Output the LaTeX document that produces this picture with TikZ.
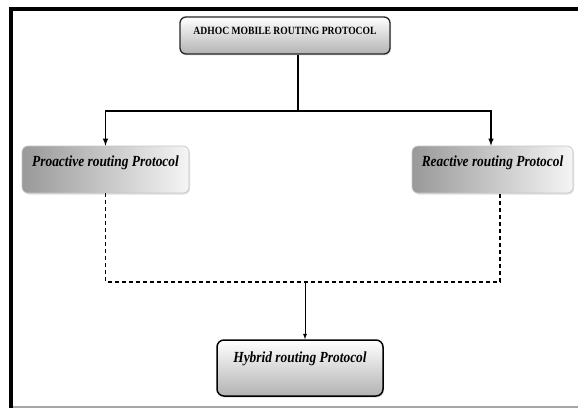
\documentclass[tikz,border=0pt]{standalone}
\usepackage{fontspec}
\setmainfont{Liberation Serif}
\usetikzlibrary{shadows}

\newcommand{\tall}[1]{\scalebox{1}[1.15]{#1}}

\tikzset{
  soft/.style={drop shadow={opacity=0.25, shadow xshift=1pt, shadow yshift=-1.5pt}},
  headbox/.style={soft, draw=black!85, line width=1.3pt, rounded corners=6pt,
    top color=white, bottom color=gray!60, inner sep=0pt,
    font=\fontsize{9.6}{11}\selectfont\bfseries},
  sidebox/.style={soft, draw=gray!45, line width=0.6pt, rounded corners=6pt,
    left color=gray!80, right color=gray!8, inner sep=0pt,
    minimum width=167pt, minimum height=47pt, text height=20pt, text depth=27pt,
    font=\fontsize{13.4}{15}\selectfont\bfseries\itshape},
  lowbox/.style={soft, draw=black, line width=1.5pt, rounded corners=7pt,
    top color=white, bottom color=gray!60, inner sep=0pt,
    minimum width=166pt, minimum height=56pt, text height=22.7pt, text depth=33.3pt,
    font=\fontsize{13.4}{15}\selectfont\bfseries\itshape},
  link/.style={line width=1.4pt, -latex},
  dashlink/.style={line width=1.2pt, dash pattern=on 4pt off 3pt}
}

\begin{document}
\begin{tikzpicture}[x=1pt, y=1pt]
    \useasboundingbox (0,0) rectangle (578,408);
    % frame
    \draw[gray!70, line width=1.5pt] (10,1.2) -- (580,1.2);
    \draw[line width=4pt] (10.5,0) -- (10.5,398.5) -- (580,398.5);

    \node[headbox, minimum width=210pt, minimum height=37pt, text height=17.3pt, text depth=19.7pt] (adhoc) at (285,372.5) {\tall{ADHOC MOBILE ROUTING PROTOCOL}};
    \node[sidebox] (proactive) at (105.5,238.5) {\tall{Proactive routing Protocol}};
    \node[sidebox, minimum width=161pt] (reactive) at (492.5,238.5) {\tall{Reactive routing Protocol}};
    \node[lowbox] (hybrid) at (300,40) {\tall{Hybrid routing Protocol}};

    \coordinate (split) at (298,297);
    \coordinate (join) at (305,126);

    \draw[line width=1.4pt] (split |- adhoc.south) -- (split);
    \draw[link] (split) -| (proactive.north);
    \draw[link] (split) -| ([xshift=-1.5pt]reactive.north);

    \draw[dashlink] (proactive.south) |- (join) -| ([xshift=7.5pt]reactive.south);
    \draw[line width=0.9pt, -latex] (join) -- (join |- hybrid.north);
\end{tikzpicture}
\end{document}
